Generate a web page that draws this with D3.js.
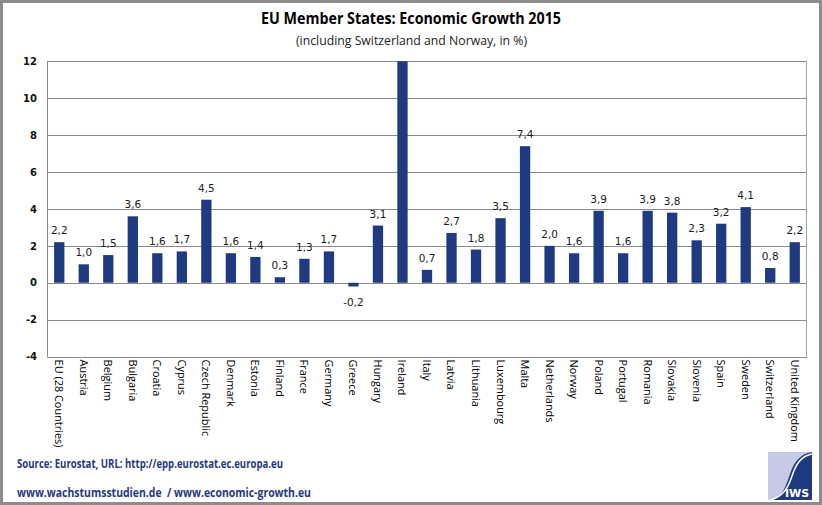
<!DOCTYPE html>
<html><head><meta charset="utf-8">
<script src="https://cdn.jsdelivr.net/npm/d3@7"></script>
<style>body{margin:0;background:#fff}svg{display:block}</style>
</head><body>
<script>
const categories = ["EU (28 Countries)","Austria","Belgium","Bulgaria","Croatia","Cyprus","Czech Republic","Denmark","Estonia","Finland","France","Germany","Greece","Hungary","Ireland","Italy","Latvia","Lithuania","Luxembourg","Malta","Netherlands","Norway","Poland","Portugal","Romania","Slovakia","Slovenia","Spain","Sweden","Switzerland","United Kingdom"];
const growth = [2.2,1.0,1.5,3.6,1.6,1.7,4.5,1.6,1.4,0.3,1.3,1.7,-0.2,3.1,26.3,0.7,2.7,1.8,3.5,7.4,2.0,1.6,3.9,1.6,3.9,3.8,2.3,3.2,4.1,0.8,2.2];
const yTicks = [-4,-2,0,2,4,6,8,10,12];
const title = "EU Member States: Economic Growth 2015";
const subtitle = "(including Switzerland and Norway, in %)";
const source = "Source: Eurostat, URL: http://epp.eurostat.ec.europa.eu";
const footer = "www.wachstumsstudien.de  / www.economic-growth.eu";

const W = 822, H = 505;
const plot = {l:47, r:807, t:61.3, b:356.6};
const svg = d3.select("body").append("svg").attr("width",W).attr("height",H);
const narrow = "'Open Sans','Liberation Sans Narrow',sans-serif";
const verd = "'DejaVu Sans',Verdana,sans-serif";

svg.append("rect").attr("x",1.5).attr("y",1.5).attr("width",W-3).attr("height",H-3)
  .attr("fill","#fff").attr("stroke","#8c8c8c").attr("stroke-width",3);

const x = d3.scaleBand().domain(categories).range([plot.l,plot.r]).paddingInner(0.58).paddingOuter(0.29);
const y = d3.scaleLinear().domain([-4,12]).range([plot.b,plot.t]).clamp(true);

// gridlines
svg.append("g").selectAll("line").data(yTicks).join("line")
  .attr("x1",plot.l).attr("x2",plot.r).attr("y1",d=>Math.round(y(d))+0.5).attr("y2",d=>Math.round(y(d))+0.5)
  .attr("stroke","#8a8a8a").attr("stroke-width",1);
svg.append("line").attr("x1",plot.l+0.5).attr("x2",plot.l+0.5).attr("y1",y(12)).attr("y2",y(-4)).attr("stroke","#8a8a8a");
svg.append("line").attr("x1",plot.r-0.5).attr("x2",plot.r-0.5).attr("y1",y(12)).attr("y2",y(-4)).attr("stroke","#9aa3b5");

// y axis labels
const yAxis = d3.axisLeft(y).tickValues(yTicks).tickSize(0).tickPadding(10).tickFormat(d=>String(d));
const ga = svg.append("g").attr("transform",`translate(${plot.l},0)`).call(yAxis);
ga.select(".domain").remove();
ga.selectAll("text").attr("font-family",verd).attr("font-size",10).attr("font-weight","bold").attr("fill","#111");

// bars
svg.append("g").selectAll("rect").data(growth).join("rect")
  .attr("x",(d,i)=>x(categories[i])).attr("width",x.bandwidth())
  .attr("y",d=>Math.min(y(d),y(0))).attr("height",d=>Math.abs(y(d)-y(0)))
  .attr("fill","#1f3a80");

// value labels (values beyond the axis top are not labelled, as in the original)
const fmt = v => v.toFixed(1).replace(".",",");
svg.append("g").selectAll("text").data(growth).join("text")
  .attr("display",d=>d>12?"none":null)
  .attr("x",(d,i)=>x(categories[i])+x.bandwidth()/2)
  .attr("y",d=> d>=0 ? y(d)-8 : y(d)+20)
  .attr("text-anchor","middle").attr("font-family",verd).attr("font-size",10.5).attr("fill","#1a1a1a")
  .text(d=>fmt(d));

// category labels
svg.append("g").selectAll("text").data(categories).join("text")
  .attr("transform",d=>`translate(${x(d)+x.bandwidth()/2},${plot.b+3}) rotate(90) scale(0.95,1)`)
  .attr("dy","0.35em").attr("font-family",narrow).attr("font-size",11.5).attr("fill","#000")
  .text(d=>d);

// titles
svg.append("text").attr("x",261).attr("y",24)
  .attr("font-family",narrow).attr("font-weight","bold").attr("font-size",15.5).attr("fill","#000")
  .attr("textLength",300).attr("lengthAdjust","spacingAndGlyphs").text(title);
svg.append("text").attr("x",296).attr("y",45)
  .attr("font-family",narrow).attr("font-size",12.5).attr("fill","#222")
  .attr("textLength",231).attr("lengthAdjust","spacingAndGlyphs").text(subtitle);

// footer
svg.append("text").attr("x",17).attr("y",468).attr("font-family",narrow).attr("font-weight","bold")
  .attr("font-size",11.5).attr("fill","#1f3a80").attr("textLength",266).attr("lengthAdjust","spacingAndGlyphs").text(source);
svg.append("text").attr("x",17).attr("y",497).attr("font-family",narrow).attr("font-weight","bold")
  .attr("font-size",12).attr("fill","#1f3a80").attr("textLength",294).attr("lengthAdjust","spacingAndGlyphs")
  .style("white-space","pre").text(footer);

// logo
const lg = svg.append("g").attr("transform","translate(768,452)");
lg.append("path").attr("d","M0,0 H40 Q44,0 44,4 V48 H0 Z").attr("fill","#c7cae6");
lg.append("path").attr("d","M44,0 V48 H4 C14,46 18,34 22,22 C26,10 32,2 44,0 Z").attr("fill","#1f3a80");
lg.append("path").attr("d","M44,2 C33,4 28,12 24,24 C20,36 15,45 2,48").attr("fill","none").attr("stroke","#fff").attr("stroke-width",1.5);
lg.append("text").attr("x",29).attr("y",45).attr("text-anchor","middle").attr("font-family","'DejaVu Sans',sans-serif")
  .attr("font-weight","bold").attr("font-size",11).attr("fill","#fff").text("IWS");
</script>
</body></html>
